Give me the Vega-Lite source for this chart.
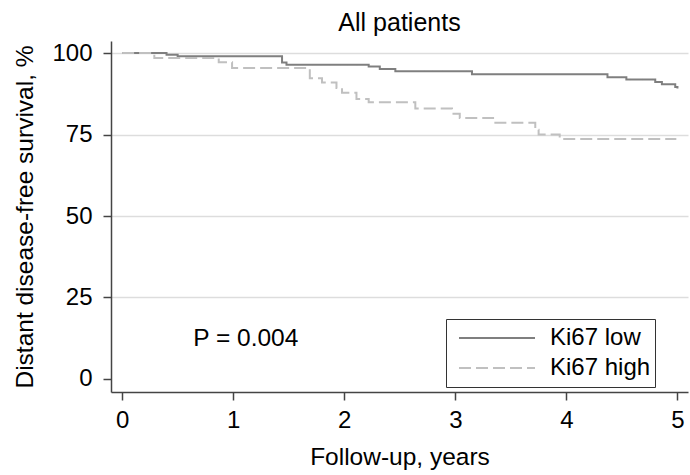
{
  "$schema": "https://vega.github.io/schema/vega-lite/v6.json",
  "width": 577,
  "height": 351,
  "autosize": {"type": "none"},
  "padding": {"left": 111, "top": 41, "right": 2, "bottom": 83},
  "background": "white",
  "config": {"view": {"stroke": null}, "font": "Liberation Sans"},
  "title": {"text": "All patients", "fontSize": 25, "fontWeight": "normal", "color": "#000", "offset": 5, "anchor": "middle"},
  "datasets": {
    "km": [
      {"group": "Ki67 low", "t": 0, "s": 100},
      {"group": "Ki67 low", "t": 0.40, "s": 99.5},
      {"group": "Ki67 low", "t": 0.50, "s": 99.0},
      {"group": "Ki67 low", "t": 1.44, "s": 97.1},
      {"group": "Ki67 low", "t": 1.48, "s": 96.4},
      {"group": "Ki67 low", "t": 2.22, "s": 95.9},
      {"group": "Ki67 low", "t": 2.32, "s": 95.1},
      {"group": "Ki67 low", "t": 2.46, "s": 94.4},
      {"group": "Ki67 low", "t": 3.15, "s": 93.5},
      {"group": "Ki67 low", "t": 4.37, "s": 92.6},
      {"group": "Ki67 low", "t": 4.54, "s": 91.9},
      {"group": "Ki67 low", "t": 4.80, "s": 91.1},
      {"group": "Ki67 low", "t": 4.86, "s": 90.4},
      {"group": "Ki67 low", "t": 4.98, "s": 89.6},
      {"group": "Ki67 low", "t": 5.0, "s": 89.1},
      {"group": "Ki67 high", "t": 0, "s": 100},
      {"group": "Ki67 high", "t": 0.29, "s": 98.5},
      {"group": "Ki67 high", "t": 0.87, "s": 97.2},
      {"group": "Ki67 high", "t": 0.99, "s": 95.4},
      {"group": "Ki67 high", "t": 1.69, "s": 92.3},
      {"group": "Ki67 high", "t": 1.80, "s": 91.0},
      {"group": "Ki67 high", "t": 1.93, "s": 89.3},
      {"group": "Ki67 high", "t": 1.98, "s": 87.8},
      {"group": "Ki67 high", "t": 2.11, "s": 85.9},
      {"group": "Ki67 high", "t": 2.22, "s": 84.9},
      {"group": "Ki67 high", "t": 2.64, "s": 83.0},
      {"group": "Ki67 high", "t": 2.97, "s": 81.4},
      {"group": "Ki67 high", "t": 3.04, "s": 80.1},
      {"group": "Ki67 high", "t": 3.34, "s": 78.6},
      {"group": "Ki67 high", "t": 3.72, "s": 76.5},
      {"group": "Ki67 high", "t": 3.75, "s": 75.0},
      {"group": "Ki67 high", "t": 3.94, "s": 73.65},
      {"group": "Ki67 high", "t": 4.99, "s": 73.65}
    ],
    "ptext": [{"x": 0.64, "y": 10, "label": "P = 0.004"}]
  },
  "layer": [
    {
      "data": {"name": "km"},
      "mark": {"type": "line", "interpolate": "step-after", "strokeWidth": 2},
      "encoding": {
        "x": {
          "field": "t", "type": "quantitative",
          "scale": {"domain": [-0.1, 5.095], "nice": false, "zero": false},
          "axis": {
            "values": [0, 1, 2, 3, 4, 5], "format": "d", "grid": false, "tickSize": 8, "tickWidth": 1.5, "tickColor": "#444",
            "domainColor": "#444", "domainWidth": 1.5, "labelFontSize": 24, "labelColor": "#000", "labelPadding": 8,
            "title": "Follow-up, years", "titleFontSize": 24.5, "titleFontWeight": "normal", "titleColor": "#000", "titlePadding": 13
          }
        },
        "y": {
          "field": "s", "type": "quantitative",
          "scale": {"domain": [-4, 103.7], "nice": false, "zero": false},
          "axis": {
            "values": [0, 25, 50, 75, 100], "grid": true, "gridColor": "#dddddd", "gridWidth": 1.5,
            "gridOpacity": {"condition": {"test": "datum.value === 0", "value": 0}, "value": 1},
            "tickSize": 8, "tickWidth": 1.5, "tickColor": "#444", "domainColor": "#444", "domainWidth": 1.5,
            "labelFontSize": 24, "labelColor": "#000", "labelPadding": 11,
            "title": "Distant disease-free survival, %", "titleFontSize": 24.5, "titleFontWeight": "normal", "titleColor": "#000", "titlePadding": 14
          }
        },
        "color": {
          "field": "group", "type": "nominal",
          "scale": {"domain": ["Ki67 low", "Ki67 high"], "range": ["#7f7f7f", "#c0c0c0"]},
          "legend": {
            "title": null, "orient": "none", "legendX": 335, "legendY": 278, "labelFontSize": 24, "labelColor": "#000",
            "symbolType": "stroke", "symbolSize": 5776, "symbolStrokeWidth": 2, "labelOffset": 14, "padding": 4,
            "symbolOffset": 8, "strokeColor": "#333", "fillColor": "white", "rowPadding": -2, "clipHeight": 30
          }
        },
        "strokeDash": {
          "field": "group", "type": "nominal",
          "scale": {"domain": ["Ki67 low", "Ki67 high"], "range": [[1, 0], [12, 5]]},
          "legend": {
            "title": null, "orient": "none", "legendX": 335, "legendY": 278, "labelFontSize": 24, "labelColor": "#000",
            "symbolType": "stroke", "symbolSize": 5776, "symbolStrokeWidth": 2, "labelOffset": 14, "padding": 4,
            "symbolOffset": 8, "strokeColor": "#333", "fillColor": "white", "rowPadding": -2, "clipHeight": 30
          }
        }
      }
    },
    {
      "data": {"name": "ptext"},
      "mark": {"type": "text", "align": "left", "baseline": "alphabetic", "fontSize": 24.5, "color": "#000"},
      "encoding": {
        "x": {"field": "x", "type": "quantitative"},
        "y": {"field": "y", "type": "quantitative"},
        "text": {"field": "label"}
      }
    }
  ]
}
